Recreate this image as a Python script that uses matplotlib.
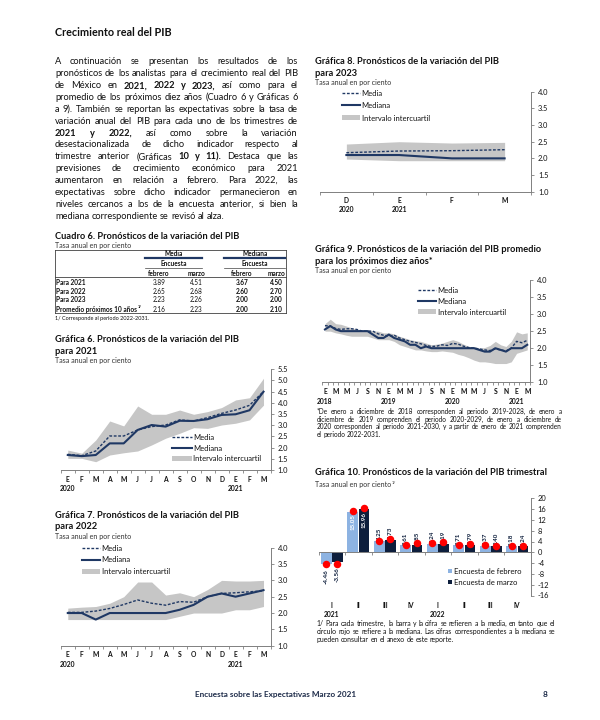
import numpy as np
import matplotlib
matplotlib.use('Agg')
import matplotlib.pyplot as plt
from matplotlib import transforms
from matplotlib.lines import Line2D
from matplotlib.patches import Rectangle

plt.rcParams['font.family'] = ['Lato', 'DejaVu Sans']

W, H = 600, 720
AZUL = '#1F3864'
GRIS = '#C6C6C6'
CELESTE = '#8DB3E2'
MARINO = '#0D1E3C'
ROJO = '#FF0000'
EJE = '#808080'
TXT = '#111111'

# ---- datos ----
parrafo_txt = [
    'A continuación se presentan los resultados de los',
    'pronósticos de los analistas para el crecimiento real del PIB',
    'de México en **2021, 2022 y 2023,** así como para el',
    'promedio de los próximos diez años (Cuadro 6 y Gráficas 6',
    'a 9). También se reportan las expectativas sobre la tasa de',
    'variación anual del PIB para cada uno de los trimestres de',
    '**2021 y 2022,** así como sobre la variación',
    'desestacionalizada de dicho indicador respecto al',
    'trimestre anterior (Gráficas **10 y 11).** Destaca que las',
    'previsiones de crecimiento económico para 2021',
    'aumentaron en relación a febrero. Para 2022, las',
    'expectativas sobre dicho indicador permanecieron en',
    'niveles cercanos a los de la encuesta anterior, si bien la',
    'mediana correspondiente se revisó al alza.',
]

tabla_filas = ['Para 2021', 'Para 2022', 'Para 2023', 'Promedio próximos 10 años']
media_feb = [3.89, 2.65, 2.23, 2.16]
media_mar = [4.51, 2.68, 2.26, 2.23]
mediana_feb = [3.67, 2.60, 2.00, 2.00]
mediana_mar = [4.50, 2.70, 2.00, 2.10]

meses_15 = ['E', 'F', 'M', 'A', 'M', 'J', 'J', 'A', 'S', 'O', 'N', 'D', 'E', 'F', 'M']

g6_media = [1.70, 1.64, 1.85, 2.52, 2.52, 2.79, 2.94, 3.01, 3.24, 3.19, 3.34, 3.53, 3.68, 3.89, 4.51]
g6_mediana = [1.67, 1.62, 1.67, 2.19, 2.19, 2.79, 3.01, 2.94, 3.20, 3.19, 3.27, 3.46, 3.49, 3.67, 4.50]
g6_sup = [1.89, 1.75, 2.34, 3.19, 2.97, 3.86, 3.49, 3.49, 3.68, 3.49, 3.61, 3.79, 4.13, 4.23, 5.10]
g6_inf = [1.52, 1.52, 1.37, 1.67, 1.77, 1.85, 2.12, 2.42, 2.64, 2.89, 2.86, 3.01, 3.09, 3.24, 3.90]

g7_media = [2.02, 2.02, 2.06, 2.14, 2.26, 2.40, 2.30, 2.24, 2.35, 2.33, 2.50, 2.60, 2.62, 2.65, 2.68]
g7_mediana = [2.00, 2.00, 1.80, 2.00, 2.00, 2.00, 2.00, 2.00, 2.10, 2.25, 2.50, 2.60, 2.50, 2.60, 2.70]
g7_sup = [2.15, 2.18, 2.20, 2.30, 2.50, 2.95, 2.95, 2.55, 2.62, 2.50, 2.72, 3.00, 2.98, 2.98, 3.00]
g7_inf = [1.80, 1.80, 1.80, 1.80, 1.80, 1.80, 1.80, 1.80, 1.90, 2.00, 2.00, 2.00, 2.10, 2.10, 2.20]

meses_g8 = ['D', 'E', 'F', 'M']
g8_media = [2.17, 2.22, 2.23, 2.26]
g8_mediana = [2.10, 2.10, 2.00, 2.00]
g8_sup = [2.43, 2.50, 2.46, 2.48]
g8_inf = [1.98, 1.93, 1.93, 1.93]

meses_g9 = ['E', 'M', 'M', 'J', 'S', 'N'] * 3 + ['E', 'M']
g9_media = [2.66, 2.65, 2.58, 2.55, 2.57, 2.57, 2.55, 2.50, 2.50, 2.50, 2.42, 2.38,
            2.36, 2.38, 2.30, 2.25, 2.20, 2.17, 2.13, 2.08, 2.05, 2.06, 2.10, 2.08,
            2.14, 2.12, 2.06, 2.02, 2.00, 1.98, 1.95, 1.93, 1.98, 1.95, 1.92, 2.00,
            2.20, 2.16, 2.23]
g9_mediana = [2.55, 2.65, 2.55, 2.50, 2.50, 2.50, 2.50, 2.50, 2.50, 2.40, 2.30, 2.30,
              2.40, 2.30, 2.25, 2.20, 2.10, 2.10, 2.00, 2.05, 2.00, 2.00, 2.00, 2.00,
              2.00, 2.00, 2.00, 2.00, 2.00, 1.95, 1.90, 1.90, 2.00, 1.95, 1.90, 2.00,
              2.00, 2.00, 2.10]
g9_sup = [2.72, 2.85, 2.72, 2.70, 2.65, 2.60, 2.55, 2.50, 2.55, 2.50, 2.50, 2.45,
          2.45, 2.42, 2.35, 2.30, 2.25, 2.22, 2.20, 2.15, 2.10, 2.12, 2.15, 2.20,
          2.25, 2.20, 2.12, 2.05, 2.05, 2.00, 2.02, 2.08, 2.20, 2.10, 2.05, 2.20,
          2.48, 2.42, 2.45]
g9_inf = [2.50, 2.50, 2.45, 2.42, 2.38, 2.35, 2.35, 2.35, 2.35, 2.30, 2.25, 2.25,
          2.25, 2.20, 2.10, 2.05, 2.00, 1.95, 1.95, 1.92, 1.90, 1.90, 1.92, 1.90,
          1.88, 1.82, 1.78, 1.72, 1.65, 1.60, 1.60, 1.58, 1.55, 1.55, 1.55, 1.60,
          1.85, 1.90, 1.95]

trimestres = ['I', 'II', 'III', 'IV', 'I', 'II', 'III', 'IV']
g10_feb = [-4.46, 15.05, 4.25, 2.61, 3.24, 2.71, 2.37, 2.18]
g10_mar = [-3.56, 15.96, 4.73, 2.85, 3.19, 2.79, 2.40, 2.24]
g10_med_feb = [-4.40, 15.30, 4.30, 2.70, 3.30, 2.70, 2.70, 2.50]
g10_med_mar = [-4.20, 16.30, 4.90, 3.30, 3.70, 3.00, 2.50, 2.30]

nota9 = [
    '*De enero a diciembre de 2018 corresponden al periodo 2019-2028, de enero a',
    'diciembre de 2019 comprenden el periodo 2020-2029, de enero a diciembre de',
    '2020 corresponden al periodo 2021-2030, y a partir de enero de 2021 comprenden',
    'el periodo 2022-2031.',
]
nota10 = [
    '1/ Para cada trimestre, la barra y la cifra se refieren a la media, en tanto que el',
    'círculo rojo se refiere a la mediana. Las cifras correspondientes a la mediana se',
    'pueden consultar en el anexo de este reporte.',
]

# ---- figura ----
fig = plt.figure(figsize=(6, 7.2), dpi=100)
fig.patch.set_facecolor('white')
rend = fig.canvas.get_renderer()


def fx(x):
    return x / W


def fy(y):
    return 1 - y / H


def txt(x, y, s, size=6, weight='normal', ha='left', color=TXT, **kw):
    return fig.text(fx(x), fy(y), s, fontsize=size, fontweight=weight, ha=ha,
                    va='center_baseline', color=color, **kw)


def ancho(t):
    return t.get_window_extent(rend).width


def ajustar(t, w):
    t.set_fontsize(t.get_fontsize() * w / ancho(t))
    return t.get_fontsize()


def ejes(x0, y0, x1, y1):
    return fig.add_axes([fx(x0), fy(y1), (x1 - x0) / W, (y1 - y0) / H])


def justificar(lineas, x0, x1, y0, dy, size, color=TXT):
    for i, linea in enumerate(lineas):
        palabras = []
        for k, p in enumerate(linea.split('**')):
            for w in p.split():
                palabras.append((w, 'bold' if k % 2 else 'normal'))
        objs = [txt(0, y0 + i * dy, w, size, b, color=color) for w, b in palabras]
        anchos = [ancho(o) for o in objs]
        if i == len(lineas) - 1 or len(objs) == 1:
            esp = size * 100 / 72 * 0.24
        else:
            esp = (x1 - x0 - sum(anchos)) / (len(objs) - 1)
        x = x0
        for o, a in zip(objs, anchos):
            o.set_x(fx(x))
            x += a + esp


def tamano_linea(linea, w, size=6):
    t = txt(0, 0, linea.replace('**', ''), size)
    s = ajustar(t, w)
    t.remove()
    return s


# titulo principal
t = txt(55, 32, 'Crecimiento real del PIB', 8, 'bold')
ajustar(t, 117)

# parrafo
sp = tamano_linea(parrafo_txt[1], 298 - 55 - 4)
justificar(parrafo_txt, 55, 298, 61, 11.85, sp)

# tamanos de titulos
t = txt(0, 0, 'Gráfica 6. Pronósticos de la variación del PIB', 6, 'bold')
st = ajustar(t, 184)
t.remove()
t = txt(0, 0, 'Tasa anual en por ciento', 5)
ss = ajustar(t, 77)
t.remove()
SUB = '#333333'

# ---- cuadro 6 ----
txt(55, 235.5, 'Cuadro 6. Pronósticos de la variación del PIB', st, 'bold')
txt(55, 245, 'Tasa anual en por ciento', ss, color=SUB)
tx0, tx1 = 55, 286
ct = 4.7


def hline(x0, x1, y, lw=0.6, color='#404040'):
    fig.add_artist(Line2D([fx(x0), fx(x1)], [fy(y), fy(y)], color=color, lw=lw))


def vline(x, y0, y1, lw=0.6, color='#404040'):
    fig.add_artist(Line2D([fx(x), fx(x)], [fy(y0), fy(y1)], color=color, lw=lw))


hline(tx0, tx1, 249.5)
hline(tx0, tx1, 277)
hline(tx0, tx1, 313)
vline(tx0, 249.5, 313)
vline(tx1, 249.5, 313)
grupos = [(145, 203, 'Media'), (224, 286, 'Mediana')]
for a, b, nombre in grupos:
    txt((a + b) / 2, 253.5, nombre, ct, 'bold', ha='center')
    hline(a, b - 1.5, 258.5, lw=1.6, color=AZUL)
    txt((a + b) / 2, 263.5, 'Encuesta', ct, 'bold', ha='center')
    hline(a, b - 1.5, 267.5, lw=0.5)
cols = [159, 196, 242, 276]
for c, s in zip(cols, ['febrero', 'marzo', 'febrero', 'marzo']):
    txt(c, 272.5, s, ct, 'bold', ha='center')
filas_y = [282, 290.5, 299, 309]
for i, y in enumerate(filas_y):
    t = txt(56, y, tabla_filas[i], ct, 'bold')
    if i == 3:
        w = ancho(t)
        txt(56 + w + 0.5, y - 2, '1/', ct * 0.6, 'bold')
    vals = [media_feb[i], media_mar[i], mediana_feb[i], mediana_mar[i]]
    for j, (c, v) in enumerate(zip(cols, vals)):
        txt(c, y, f'{v:.2f}', ct, 'bold' if j >= 2 else 'normal', ha='center')
txt(55, 318, '1/ Corresponde al periodo 2022-2031.', ct * 0.85)


# ---- graficas de lineas ----
def lineas(ax, etiquetas, media, mediana, sup, inf, ymin, ymax, paso, cada=1):
    x = np.arange(len(media))
    ax.fill_between(x, inf, sup, color=GRIS, lw=0, zorder=1)
    ax.plot(x, mediana, color=AZUL, lw=1.5, zorder=3)
    ax.plot(x, media, color=AZUL, lw=1.0, ls=(0, (2, 1.2)), zorder=4)
    ax.set_xlim(-0.5, len(media) - 0.5)
    ax.set_ylim(ymin, ymax)
    for s in ['left', 'top']:
        ax.spines[s].set_visible(False)
    for s in ['right', 'bottom']:
        ax.spines[s].set_color(EJE)
        ax.spines[s].set_linewidth(0.7)
    ax.yaxis.tick_right()
    yt = np.arange(ymin, ymax + 1e-9, paso)
    ax.set_yticks(yt)
    ax.set_yticklabels([f'{v:.1f}' for v in yt])
    ax.tick_params(axis='y', length=2.5, width=0.6, color=EJE, pad=2.5,
                   labelsize=5.4, labelcolor=TXT)
    ax.set_xticks(np.arange(len(media) + 1) - 0.5, minor=True)
    ax.set_xticks(x[::cada])
    ax.set_xticklabels(etiquetas, fontweight='bold')
    ax.tick_params(axis='x', which='major', length=0, pad=4, labelsize=4.9,
                   labelcolor=TXT)
    ax.tick_params(axis='x', which='minor', length=2.5, width=0.6, color=EJE)
    ax.patch.set_alpha(0)


def anios(ax, pos, textos, y, size=4.9):
    tr = transforms.blended_transform_factory(ax.transData, fig.transFigure)
    for p, s in zip(pos, textos):
        ax.text(p, fy(y), s, transform=tr, ha='center', va='center_baseline',
                fontsize=size, fontweight='bold', color=TXT)


def leyenda(x0, x1, ys, size=5.5):
    y1, y2, y3 = ys
    fig.add_artist(Line2D([fx(x0), fx(x1)], [fy(y1)] * 2, color=AZUL, lw=1.0,
                          ls=(0, (2, 1.2))))
    fig.add_artist(Line2D([fx(x0), fx(x1)], [fy(y2)] * 2, color=AZUL, lw=1.5))
    fig.add_artist(Rectangle((fx(x0), fy(y3 + 2.5)), (x1 - x0) / W, 5 / H,
                             color=GRIS, transform=fig.transFigure, lw=0))
    for y, s in zip(ys, ['Media', 'Mediana', 'Intervalo intercuartil']):
        txt(x1 + 1.5, y, s, size)


# grafica 6
txt(55, 338, 'Gráfica 6. Pronósticos de la variación del PIB', st, 'bold')
txt(55, 350, 'para 2021', st, 'bold')
txt(55, 360, 'Tasa anual en por ciento', ss, color=SUB)
ax6 = ejes(60.8, 369.3, 270.5, 470)
lineas(ax6, meses_15, g6_media, g6_mediana, g6_sup, g6_inf, 1.0, 5.5, 0.5)
anios(ax6, [0, 12], ['2020', '2021'], 488)
leyenda(171.7, 191.7, [437, 448, 458.5])

# grafica 7
txt(55, 514, 'Gráfica 7. Pronósticos de la variación del PIB', st, 'bold')
txt(55, 525.5, 'para 2022', st, 'bold')
txt(55, 536, 'Tasa anual en por ciento', ss, color=SUB)
ax7 = ejes(60.8, 547.7, 270.5, 645.7)
lineas(ax7, meses_15, g7_media, g7_mediana, g7_sup, g7_inf, 1.0, 4.0, 0.5)
anios(ax7, [0, 12], ['2020', '2021'], 664)
leyenda(81.7, 100, [548, 559.5, 571])

# grafica 8
txt(315, 60, 'Gráfica 8. Pronósticos de la variación del PIB', st, 'bold')
txt(315, 72, 'para 2023', st, 'bold')
txt(315, 82.3, 'Tasa anual en por ciento', ss, color=SUB)
ax8 = ejes(320, 91.7, 531, 191.7)
lineas(ax8, meses_g8, g8_media, g8_mediana, g8_sup, g8_inf, 1.0, 4.0, 0.5)
anios(ax8, [0, 1], ['2020', '2021'], 209)
leyenda(341.7, 360, [93, 105, 117.7])

# grafica 9
txt(315, 248.3, 'Gráfica 9. Pronósticos de la variación del PIB promedio', st, 'bold')
txt(315, 260, 'para los próximos diez años*', st, 'bold')
txt(315, 270.5, 'Tasa anual en por ciento', ss, color=SUB)
ax9 = ejes(322.3, 280, 529.9, 382.3)
lineas(ax9, meses_g9, g9_media, g9_mediana, g9_sup, g9_inf, 1.0, 4.0, 0.5, cada=2)
anios(ax9, [0, 12, 24, 36], ['2018', '2019', '2020', '2021'], 401)
leyenda(418.3, 436, [290, 301, 311.7])

sn = tamano_linea(nota9[2], 561.7 - 316.7 - 3)
justificar(nota9, 316.7, 561.7, 411, 7.7, sn)

# grafica 10
txt(315, 471.7, 'Gráfica 10. Pronósticos de la variación del PIB trimestral', st, 'bold')
t = txt(315, 484, 'Tasa anual en por ciento', ss, color=SUB)
txt(315 + ancho(t) + 0.5, 482, '1/', ss * 0.6, color=SUB)

ax10 = ejes(318.6, 498.3, 530.5, 595.5)
x = np.arange(len(g10_feb))
d, bw = 0.21, 0.40
ax10.bar(x - d, g10_feb, bw, color=CELESTE, zorder=2)
ax10.bar(x + d, g10_mar, bw, color=MARINO, zorder=2)
ax10.plot(x - d, g10_med_feb, 'o', color=ROJO, ms=5.4, mew=0, zorder=6)
ax10.plot(x + d, g10_med_mar, 'o', color=ROJO, ms=5.4, mew=0, zorder=6)


def etiqueta(ax, xi, v):
    s = f'{v:.2f}'
    kw = dict(textcoords='offset points', rotation=90, ha='center', fontsize=4.5,
              fontweight='bold', zorder=4)
    if v > 10:
        ax.annotate(s, (xi, v), xytext=(0, -2), va='top', color='white', **kw)
    elif v < 0:
        ax.annotate(s, (xi, v), xytext=(0, -3.5), va='top', color=MARINO, **kw)
    else:
        ax.annotate(s, (xi, v), xytext=(0, 0.3), va='bottom', color=MARINO, **kw)


for xi, v in zip(x - d, g10_feb):
    etiqueta(ax10, xi, v)
for xi, v in zip(x + d, g10_mar):
    etiqueta(ax10, xi, v)

ax10.set_xlim(-0.5, len(g10_feb) - 0.5)
ax10.set_ylim(-16, 20)
for s in ['left', 'top']:
    ax10.spines[s].set_visible(False)
ax10.spines['bottom'].set_position(('data', 0))
for s in ['right', 'bottom']:
    ax10.spines[s].set_color(EJE)
    ax10.spines[s].set_linewidth(0.7)
ax10.yaxis.tick_right()
yt = np.arange(-16, 21, 4)
ax10.set_yticks(yt)
ax10.set_yticklabels([str(v) for v in yt])
ax10.tick_params(axis='y', length=2.5, width=0.6, color=EJE, pad=2.5, labelsize=5.4,
                 labelcolor=TXT)
ax10.set_xticks([])
ax10.set_xticks(np.arange(len(g10_feb) + 1) - 0.5, minor=True)
ax10.tick_params(axis='x', which='minor', length=2, width=0.6, color=EJE)
ax10.patch.set_alpha(0)
tr10 = transforms.blended_transform_factory(ax10.transData, fig.transFigure)
for xi, s in zip(x, trimestres):
    ax10.text(xi, fy(605), s, transform=tr10, ha='center', va='center_baseline',
              fontsize=4.9, fontweight='bold', color=TXT)
anios(ax10, [0, 4], ['2021', '2022'], 614)

for y, c, s in [(570.7, CELESTE, 'Encuesta de febrero'), (581.7, MARINO, 'Encuesta de marzo')]:
    fig.add_artist(Rectangle((fx(447.5), fy(y + 2.2)), 4.4 / W, 4.4 / H, color=c,
                             transform=fig.transFigure, lw=0))
    txt(454, y, s, 5.5)

sn2 = tamano_linea(nota10[0], 555 - 316.7 - 3)
justificar(nota10, 316.7, 555, 623.3, 7.7, sn2)

# pie de pagina
t = txt(195, 694, 'Encuesta sobre las Expectativas Marzo 2021', 6, 'bold', color='#1c2a48')
ajustar(t, 162)
txt(543, 694, '8', t.get_fontsize(), 'bold', color='#1c2a48')

fig.savefig('out.png', dpi=100, facecolor='white')
